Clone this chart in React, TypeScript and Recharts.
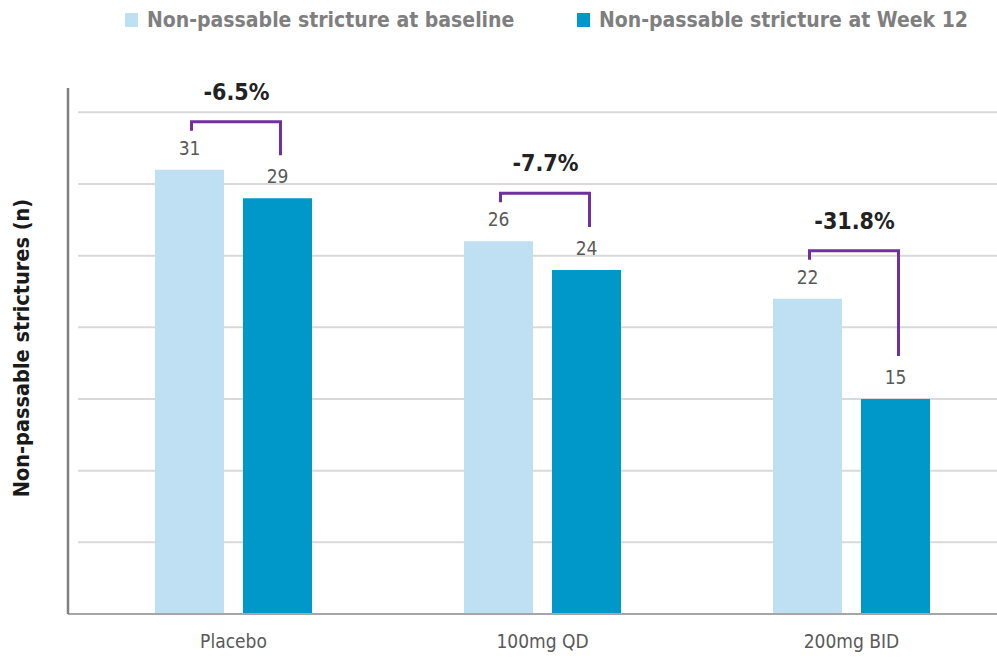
import React from 'react';
import { BarChart, Bar, XAxis, YAxis, CartesianGrid, Legend, Label } from 'recharts';

const categories = ['Placebo', '100mg QD', '200mg BID'];
const baselineValues = [31, 26, 22];
const week12Values = [29, 24, 15];
const changeLabels = ['-6.5%', '-7.7%', '-31.8%'];
const yTicks = [0, 5, 10, 15, 20, 25, 30, 35];
const seriesNames = ['Non-passable stricture at baseline', 'Non-passable stricture at Week 12'];
const yAxisTitle = 'Non-passable strictures (n)';

const LIGHT = '#bfe0f3';
const DARK = '#0097c9';
const PURPLE = '#7030a0';
const FONT = '"DejaVu Sans Condensed", "Open Sans", sans-serif';

const data = categories.map((c, i) => ({
  category: c,
  baseline: baselineValues[i],
  week12: week12Values[i],
}));

const GAP = 19;
const LEGEND_H = 40;

const BaselineLabel = (props: any) => {
  const { x, y, width, value } = props;
  return (
    <text x={x + width / 2} y={y - 15} textAnchor="middle" fontSize={19} fill="#595959" fontFamily={FONT}>
      {value}
    </text>
  );
};

const Week12Label = (props: any) => {
  const { x, y, width, height, value, index } = props;
  const ppu = height / value;
  const bottom = y + height;
  const lightTop = bottom - baselineValues[index] * ppu;
  const darkCx = x + width / 2;
  const lightCx = x - GAP - width / 2;
  const hy = lightTop - 48;
  const path = `M${lightCx + 2},${lightTop - 39} L${lightCx + 2},${hy} L${darkCx + 3},${hy} L${darkCx + 3},${y - 43}`;
  return (
    <g>
      <text x={darkCx} y={y - 15} textAnchor="middle" fontSize={19} fill="#595959" fontFamily={FONT}>
        {value}
      </text>
      <path d={path} fill="none" stroke={PURPLE} strokeWidth={3} />
      <text x={(lightCx + darkCx) / 2 + 3} y={hy - 22} textAnchor="middle" fontSize={23} fontWeight="bold" fill="#222" fontFamily={FONT}>
        {changeLabels[index]}
      </text>
    </g>
  );
};

const XTick = (props: any) => {
  const { x, y, payload } = props;
  return (
    <text x={x} y={y + 34} textAnchor="middle" fontSize={19} fill="#595959" fontFamily={FONT}>
      {payload.value}
    </text>
  );
};

const EmptyTick = () => <g />;

const GridLine = (props: any) => {
  const { x1, x2, y1, y2, y, height } = props;
  if (typeof y === 'number' && (Math.abs(y1 - y) < 2 || Math.abs(y1 - (y + height)) < 2)) return <g />;
  return <line x1={x1 + 10} x2={x2} y1={y1} y2={y2} stroke="#d9d9d9" strokeWidth={2} />;
};

const LegendContent = () => (
  <div style={{ position: 'relative', width: 997, height: LEGEND_H, fontFamily: FONT }}>
    {seriesNames.map((n, i) => (
      <div
        key={n}
        style={{
          position: 'absolute',
          left: i === 0 ? 125 : 577,
          top: 5,
          display: 'flex',
          alignItems: 'center',
          whiteSpace: 'nowrap',
        }}
      >
        <span style={{ display: 'inline-block', width: 13, height: 14, background: i === 0 ? LIGHT : DARK, marginRight: 9 }} />
        <span style={{ fontSize: 21, fontWeight: 'bold', color: '#7f7f7f', lineHeight: '30px' }}>{n}</span>
      </div>
    ))}
  </div>
);

export default function App() {
  return (
    <div style={{ position: 'absolute', left: 0, top: 0, width: 997, height: 658, overflow: 'hidden', background: '#fff' }}>
      <BarChart
        width={1010}
        height={658}
        data={data}
        margin={{ top: 88 - LEGEND_H, right: 4, bottom: 0, left: 0 }}
        barSize={69}
        barGap={GAP}
      >
        <CartesianGrid vertical={false} horizontal={GridLine as any} />
        <Legend verticalAlign="top" align="left" content={LegendContent} wrapperStyle={{ top: 0, left: 0, width: 997, height: LEGEND_H }} />
        <XAxis
          dataKey="category"
          height={44}
          padding={{ left: 11, right: 0 }}
          tickLine={false}
          tickSize={0}
          tickMargin={0}
          axisLine={{ stroke: '#a6a6a6', strokeWidth: 2 }}
          tick={<XTick />}
        />
        <YAxis
          width={68}
          domain={[0, 36.7]}
          ticks={yTicks}
          tick={<EmptyTick />}
          tickLine={false}
          axisLine={{ stroke: '#808080', strokeWidth: 2.5 }}
        >
          <Label
            content={() => (
              <text
                x={23}
                y={348}
                transform="rotate(-90 23 348)"
                textAnchor="middle"
                dominantBaseline="middle"
                fontSize={21.5}
                fontWeight="bold"
                fill="#1a1a1a"
                fontFamily={FONT}
              >
                {yAxisTitle}
              </text>
            )}
          />
        </YAxis>
        <Bar dataKey="baseline" fill={LIGHT} isAnimationActive={false} label={<BaselineLabel />} />
        <Bar dataKey="week12" fill={DARK} isAnimationActive={false} label={<Week12Label />} />
      </BarChart>
    </div>
  );
}
